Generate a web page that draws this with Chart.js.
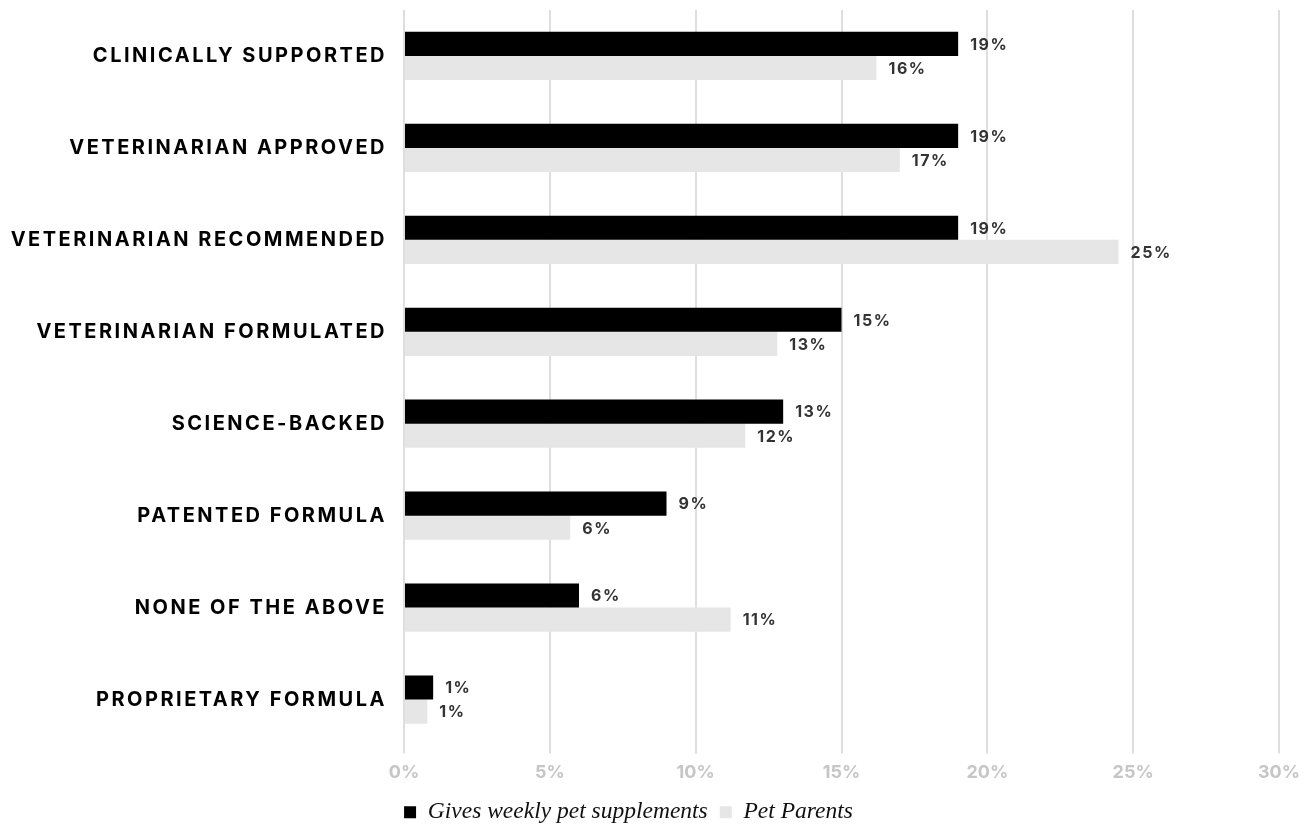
<!DOCTYPE html>
<html>
<head>
<meta charset="utf-8">
<script src="https://cdn.jsdelivr.net/npm/chart.js@4/dist/chart.umd.min.js"></script>
<style>
  html, body { margin: 0; padding: 0; background: #fff; }
  #wrap { width: 1312px; height: 824px; }
</style>
</head>
<body>
<div id="wrap"><canvas id="myCanvas"></canvas></div>
<script>
/*
*Data
*/
const categories = [
    'CLINICALLY SUPPORTED',
    'VETERINARIAN APPROVED',
    'VETERINARIAN RECOMMENDED',
    'VETERINARIAN FORMULATED',
    'SCIENCE-BACKED',
    'PATENTED FORMULA',
    'NONE OF THE ABOVE',
    'PROPRIETARY FORMULA'
];
const supplementValues = [19, 19, 19, 15, 13, 9, 6, 1];
const parentValues = [16.2, 17, 24.5, 12.8, 11.7, 5.7, 11.2, 0.8];
const supplementLabels = ['19%', '19%', '19%', '15%', '13%', '9%', '6%', '1%'];
const parentLabels = ['16%', '17%', '25%', '13%', '12%', '6%', '11%', '1%'];
const seriesNames = ['Gives weekly pet supplements', 'Pet Parents'];

const colors = {
    BLACK: '#000000',
    GREY: '#e6e6e6',
    GRID: '#dedede',
    TICK: '#c6c6c6',
    LABEL: '#333333'
}

/*
*Draw the value next to each bar, then leave letter spacing on for the y labels
*/
const valueLabels = {
    id: 'valueLabels',
    beforeDraw(chart) {
        chart.ctx.letterSpacing = '0px';
    },
    afterDatasetsDraw(chart) {
        const ctx = chart.ctx;
        const texts = [supplementLabels, parentLabels];
        ctx.save();
        ctx.letterSpacing = '1.5px';
        ctx.font = '700 16px Inter';
        ctx.fillStyle = colors.LABEL;
        ctx.textAlign = 'left';
        ctx.textBaseline = 'middle';
        chart.data.datasets.forEach(function(ds, i) {
            chart.getDatasetMeta(i).data.forEach(function(bar, j) {
                ctx.fillText(texts[i][j], bar.x + 12, bar.y + 1);
            });
        });
        ctx.restore();
        ctx.letterSpacing = '2.5px';
    },
    afterDraw(chart) {
        chart.ctx.letterSpacing = '0px';
    }
};

function drawGraphic(id) {
    const ctx = document.getElementById(id).getContext('2d');
    return new Chart(ctx, {
        type: 'bar',
        data: {
            labels: categories,
            datasets: [{
                label: seriesNames[0],
                data: supplementValues,
                backgroundColor: colors.BLACK,
                barPercentage: 1,
                categoryPercentage: 0.525
            }, {
                label: seriesNames[1],
                data: parentValues,
                backgroundColor: colors.GREY,
                barPercentage: 1,
                categoryPercentage: 0.525
            }]
        },
        plugins: [valueLabels],
        options: {
            indexAxis: 'y',
            responsive: true,
            maintainAspectRatio: false,
            animation: false,
            layout: { padding: { top: 10, right: 33, left: -22, bottom: -10 } },
            plugins: {
                tooltip: { enabled: false },
                legend: {
                    position: 'bottom',
                    labels: {
                        boxWidth: 12,
                        boxHeight: 12,
                        padding: 12,
                        color: '#111',
                        font: { family: 'Liberation Serif', style: 'italic', size: 23.5 }
                    }
                }
            },
            scales: {
                x: {
                    min: 0,
                    max: 30,
                    border: { display: false },
                    grid: { color: colors.GRID, lineWidth: 2, tickLength: 8 },
                    ticks: {
                        stepSize: 5,
                        padding: 8,
                        color: colors.TICK,
                        font: { family: 'Inter', weight: '700', size: 18 },
                        callback: function(v) { return v + '%'; }
                    },
                    afterFit: function(scale) { scale.height = 43; }
                },
                y: {
                    border: { display: false },
                    grid: { display: false },
                    ticks: {
                        z: 1,
                        padding: 9,
                        color: '#000',
                        font: { family: 'Inter', weight: '700', size: 20 }
                    },
                    afterFit: function(scale) {
                        scale.width = 426;
                        scale.paddingTop = 0;
                        scale.paddingBottom = 0;
                    }
                }
            }
        }
    });
}

drawGraphic('myCanvas');
</script>
</body>
</html>
